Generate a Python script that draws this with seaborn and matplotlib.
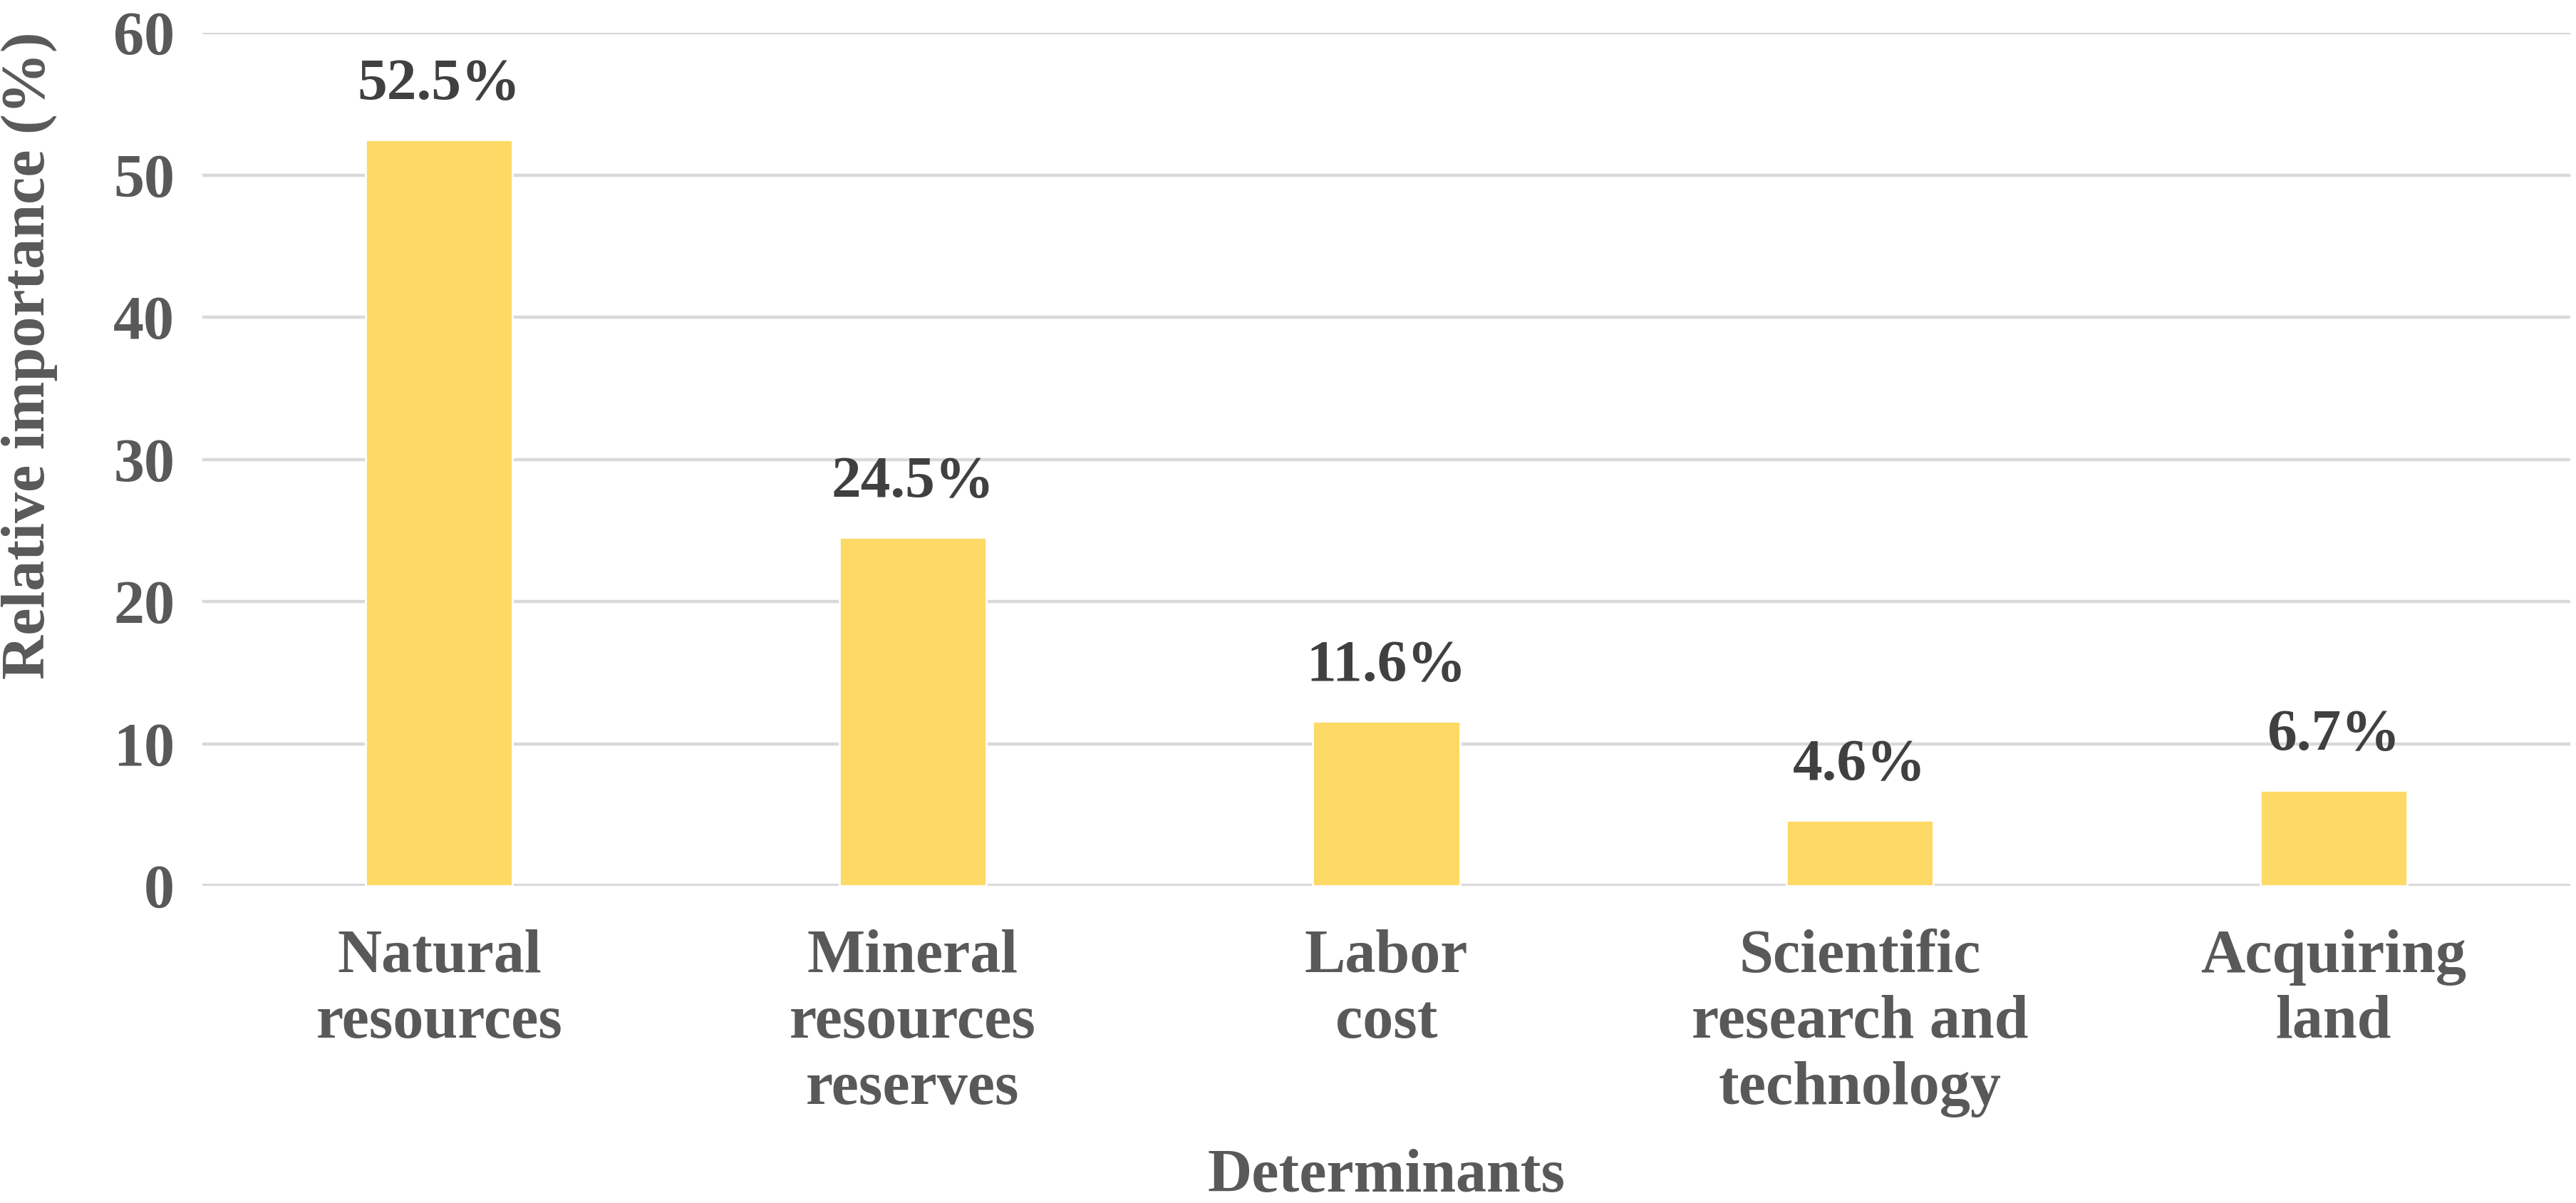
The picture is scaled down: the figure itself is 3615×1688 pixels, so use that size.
import matplotlib
matplotlib.use('Agg')
import matplotlib.pyplot as plt
import seaborn as sns
import pandas as pd

categories = ['Natural\nresources', 'Mineral\nresources\nreserves', 'Labor\ncost',
              'Scientific\nresearch and\ntechnology', 'Acquiring\nland']
values = [52.5, 24.5, 11.6, 4.6, 6.7]
yticks = [0, 10, 20, 30, 40, 50, 60]

df = pd.DataFrame({'Determinants': categories, 'Importance': values})

sns.set_theme(style='white')
plt.rcParams['font.family'] = ['Liberation Serif', 'DejaVu Serif']
plt.rcParams['font.weight'] = 'bold'

grey = '#595959'
fig = plt.figure(figsize=(18.075, 8.44), dpi=200)
ax = fig.add_axes([284 / 3615, 1 - 1243 / 1688, (3607 - 284) / 3615, (1243 - 46) / 1688])

sns.barplot(data=df, x='Determinants', y='Importance', color='#FDD966',
            width=0.31, saturation=1, ax=ax, zorder=3)

ax.set_ylim(0, 60)
ax.set_yticks(yticks)
ax.set_xlim(-0.5, len(categories) - 0.5)
ax.yaxis.grid(True, color='#D9D9D9', linewidth=1.6, zorder=0)
ax.set_axisbelow(True)
for s in ax.spines.values():
    s.set_visible(False)
ax.axhline(0, color='#D9D9D9', linewidth=2.2, zorder=1)

ax.tick_params(axis='both', length=0, colors=grey, labelsize=31)
ax.tick_params(axis='y', pad=14)
ax.tick_params(axis='x', pad=22)
for lab in ax.get_xticklabels() + ax.get_yticklabels():
    lab.set_fontweight('bold')
    lab.set_linespacing(1.22)

for p, v in zip(ax.patches, values):
    ax.annotate(f'{v}%', (p.get_x() + p.get_width() / 2, p.get_height()),
                xytext=(0, 14), textcoords='offset points', ha='center', va='bottom',
                fontsize=30, fontweight='bold', color='#404040')

ax.set_xlabel('Determinants', fontsize=31, fontweight='bold', color=grey, labelpad=16)
ax.set_ylabel('Relative importance (%)', fontsize=31, fontweight='bold', color=grey)
ax.yaxis.set_label_coords(-0.061, 0.622)

fig.savefig('out.png', dpi=200)
